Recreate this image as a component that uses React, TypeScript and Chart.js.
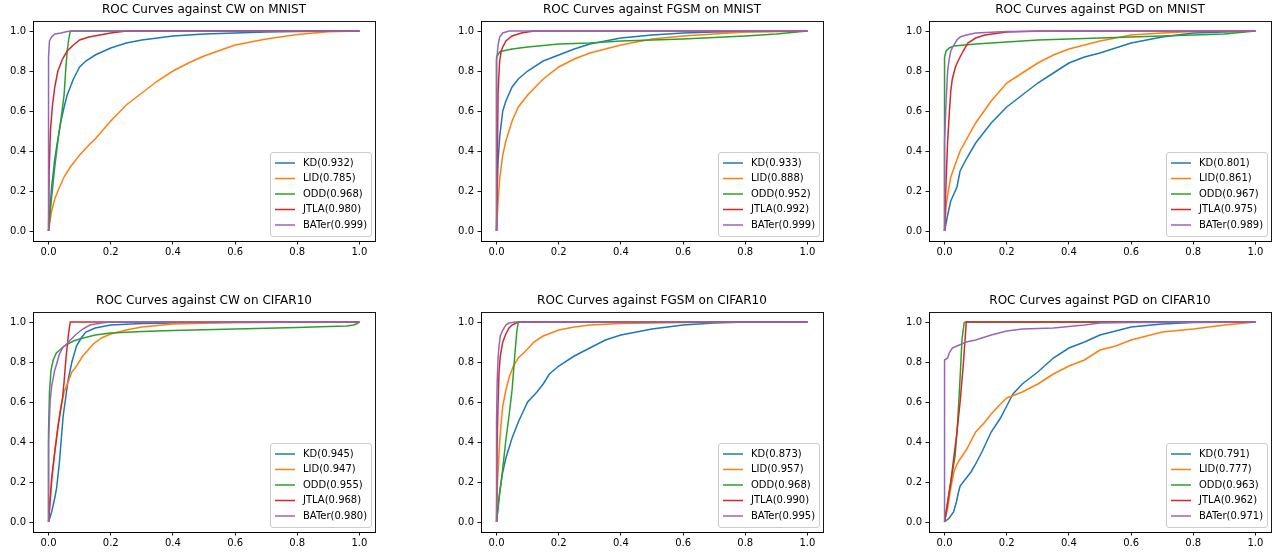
import React, { useEffect, useRef } from "react";
import { Chart, registerables } from "chart.js";

Chart.register(...registerables);

// ---------- labels / styling data ----------
const METHODS = ["KD", "LID", "ODD", "JTLA", "BATer"];
const COLORS = ["#1f77b4", "#ff7f0e", "#2ca02c", "#d62728", "#9467bd"];
const ATTACKS = ["CW", "FGSM", "PGD"];
const DATASETS = ["MNIST", "CIFAR10"];
const AXIS_TICKS = [0, 0.2, 0.4, 0.6, 0.8, 1.0];

// ---------- AUC values per panel (KD, LID, ODD, JTLA, BATer) ----------
const AUC_CW_MNIST = [0.932, 0.785, 0.968, 0.98, 0.999];
const AUC_FGSM_MNIST = [0.933, 0.888, 0.952, 0.992, 0.999];
const AUC_PGD_MNIST = [0.801, 0.861, 0.967, 0.975, 0.989];
const AUC_CW_CIFAR10 = [0.945, 0.947, 0.955, 0.968, 0.98];
const AUC_FGSM_CIFAR10 = [0.873, 0.957, 0.968, 0.99, 0.995];
const AUC_PGD_CIFAR10 = [0.791, 0.777, 0.963, 0.962, 0.971];

// ---------- ROC curves: [FPR, TPR] ----------
// CW on MNIST
const CW_MNIST_KD = [[0,0],[0.005,0.12],[0.01,0.22],[0.02,0.36],[0.03,0.46],[0.04,0.55],[0.05,0.62],[0.06,0.68],[0.07,0.72],[0.08,0.76],[0.1,0.82],[0.12,0.85],[0.15,0.88],[0.2,0.915],[0.25,0.94],[0.3,0.955],[0.4,0.975],[0.5,0.985],[0.6,0.99],[0.7,0.995],[0.8,0.998],[1,1]];
const CW_MNIST_LID = [[0,0],[0.005,0.05],[0.01,0.1],[0.02,0.16],[0.03,0.2],[0.05,0.27],[0.07,0.32],[0.1,0.38],[0.13,0.43],[0.15,0.46],[0.2,0.55],[0.25,0.63],[0.3,0.69],[0.35,0.75],[0.4,0.8],[0.45,0.84],[0.5,0.875],[0.6,0.93],[0.7,0.96],[0.8,0.983],[0.9,0.996],[1,1]];
const CW_MNIST_ODD = [[0,0],[0.01,0.17],[0.02,0.32],[0.03,0.45],[0.04,0.56],[0.05,0.68],[0.055,0.8],[0.06,0.9],[0.065,0.96],[0.07,1],[1,1]];
const CW_MNIST_JTLA = [[0,0],[0.002,0.3],[0.006,0.5],[0.012,0.62],[0.02,0.72],[0.03,0.8],[0.045,0.86],[0.06,0.9],[0.08,0.93],[0.1,0.955],[0.13,0.97],[0.2,0.99],[0.25,1],[1,1]];
const CW_MNIST_BATER = [[0,0],[0,0.87],[0.003,0.95],[0.01,0.97],[0.02,0.985],[0.04,0.99],[0.06,0.997],[0.08,1],[1,1]];

// FGSM on MNIST
const FGSM_MNIST_KD = [[0,0],[0.002,0.2],[0.005,0.35],[0.01,0.47],[0.02,0.6],[0.03,0.65],[0.05,0.72],[0.07,0.76],[0.1,0.8],[0.15,0.85],[0.2,0.88],[0.25,0.91],[0.3,0.935],[0.4,0.965],[0.5,0.98],[0.6,0.99],[0.7,0.995],[1,1]];
const FGSM_MNIST_LID = [[0,0],[0.005,0.15],[0.01,0.26],[0.02,0.38],[0.03,0.45],[0.05,0.55],[0.07,0.62],[0.1,0.68],[0.15,0.76],[0.2,0.82],[0.25,0.86],[0.3,0.89],[0.4,0.93],[0.5,0.96],[0.6,0.975],[0.7,0.985],[0.8,0.995],[1,1]];
const FGSM_MNIST_ODD = [[0,0],[0,0.87],[0.01,0.895],[0.02,0.9],[0.05,0.91],[0.1,0.92],[0.2,0.935],[0.3,0.94],[0.4,0.95],[0.5,0.955],[0.6,0.96],[0.7,0.967],[0.8,0.975],[0.9,0.985],[1,1]];
const FGSM_MNIST_JTLA = [[0,0],[0.005,0.7],[0.01,0.85],[0.015,0.9],[0.02,0.92],[0.03,0.95],[0.05,0.975],[0.08,0.99],[0.12,1],[1,1]];
const FGSM_MNIST_BATER = [[0,0],[0,0.85],[0.005,0.93],[0.01,0.97],[0.02,0.99],[0.04,1],[1,1]];

// PGD on MNIST
const PGD_MNIST_KD = [[0,0],[0.01,0.08],[0.02,0.15],[0.04,0.22],[0.05,0.3],[0.07,0.36],[0.1,0.44],[0.15,0.54],[0.2,0.62],[0.25,0.68],[0.3,0.74],[0.35,0.79],[0.4,0.84],[0.45,0.87],[0.5,0.89],[0.6,0.94],[0.7,0.97],[0.8,0.99],[0.9,0.995],[1,1]];
const PGD_MNIST_LID = [[0,0],[0.005,0.12],[0.01,0.18],[0.02,0.27],[0.05,0.4],[0.1,0.54],[0.15,0.65],[0.2,0.74],[0.25,0.79],[0.3,0.84],[0.35,0.88],[0.4,0.91],[0.5,0.95],[0.6,0.98],[0.7,0.99],[0.8,0.997],[1,1]];
const PGD_MNIST_ODD = [[0,0],[0,0.87],[0.005,0.9],[0.015,0.915],[0.03,0.925],[0.1,0.935],[0.2,0.945],[0.3,0.955],[0.4,0.96],[0.5,0.965],[0.6,0.97],[0.7,0.975],[0.8,0.98],[0.9,0.985],[1,1]];
const PGD_MNIST_JTLA = [[0,0],[0.005,0.25],[0.01,0.45],[0.015,0.58],[0.02,0.7],[0.025,0.76],[0.035,0.82],[0.045,0.855],[0.06,0.9],[0.075,0.94],[0.1,0.965],[0.13,0.98],[0.2,0.995],[0.3,1],[1,1]];
const PGD_MNIST_BATER = [[0,0],[0,0.45],[0.005,0.65],[0.01,0.8],[0.015,0.86],[0.02,0.9],[0.03,0.93],[0.04,0.955],[0.05,0.97],[0.07,0.98],[0.1,0.99],[0.2,0.997],[0.5,1],[1,1]];

// CW on CIFAR10
const CW_CIFAR10_KD = [[0,0],[0.01,0.05],[0.02,0.12],[0.026,0.17],[0.035,0.3],[0.047,0.53],[0.055,0.62],[0.063,0.71],[0.075,0.8],[0.09,0.88],[0.105,0.92],[0.12,0.95],[0.15,0.97],[0.2,0.985],[0.3,0.993],[0.5,0.998],[1,1]];
const CW_CIFAR10_LID = [[0,0],[0.005,0.1],[0.01,0.2],[0.02,0.35],[0.03,0.48],[0.04,0.58],[0.05,0.65],[0.063,0.7],[0.075,0.75],[0.09,0.78],[0.11,0.83],[0.144,0.89],[0.17,0.92],[0.2,0.94],[0.25,0.96],[0.3,0.975],[0.4,0.99],[0.6,0.997],[1,1]];
const CW_CIFAR10_ODD = [[0,0],[0,0.45],[0.003,0.65],[0.008,0.76],[0.015,0.81],[0.025,0.845],[0.036,0.86],[0.05,0.88],[0.08,0.905],[0.1,0.915],[0.15,0.935],[0.2,0.945],[0.3,0.952],[0.4,0.957],[0.5,0.961],[0.6,0.965],[0.7,0.969],[0.8,0.973],[0.9,0.977],[0.96,0.98],[0.98,0.985],[0.99,0.99],[1,1]];
const CW_CIFAR10_JTLA = [[0,0],[0.01,0.22],[0.02,0.35],[0.03,0.47],[0.04,0.57],[0.045,0.62],[0.05,0.7],[0.055,0.8],[0.06,0.88],[0.065,0.95],[0.07,1],[1,1]];
const CW_CIFAR10_BATER = [[0,0],[0,0.4],[0.005,0.6],[0.01,0.68],[0.02,0.76],[0.026,0.79],[0.035,0.84],[0.045,0.87],[0.058,0.89],[0.07,0.91],[0.09,0.94],[0.11,0.965],[0.133,0.985],[0.17,0.995],[0.2,1],[1,1]];

// FGSM on CIFAR10
const FGSM_CIFAR10_KD = [[0,0],[0.005,0.08],[0.01,0.15],[0.02,0.25],[0.03,0.32],[0.05,0.42],[0.07,0.5],[0.085,0.55],[0.1,0.6],[0.13,0.65],[0.15,0.69],[0.17,0.74],[0.2,0.78],[0.25,0.83],[0.3,0.87],[0.35,0.91],[0.4,0.935],[0.45,0.95],[0.5,0.965],[0.6,0.985],[0.7,0.995],[0.8,1],[1,1]];
const FGSM_CIFAR10_LID = [[0,0],[0.003,0.2],[0.01,0.4],[0.015,0.5],[0.02,0.58],[0.03,0.66],[0.04,0.72],[0.054,0.78],[0.07,0.82],[0.097,0.86],[0.12,0.9],[0.15,0.93],[0.2,0.96],[0.25,0.975],[0.3,0.985],[0.4,0.993],[0.6,0.998],[1,1]];
const FGSM_CIFAR10_ODD = [[0,0],[0.01,0.14],[0.02,0.27],[0.03,0.41],[0.04,0.53],[0.05,0.66],[0.055,0.76],[0.06,0.86],[0.065,0.95],[0.07,1],[1,1]];
const FGSM_CIFAR10_JTLA = [[0,0],[0.002,0.4],[0.005,0.6],[0.008,0.75],[0.012,0.83],[0.02,0.9],[0.03,0.94],[0.04,0.97],[0.05,0.985],[0.07,1],[1,1]];
const FGSM_CIFAR10_BATER = [[0,0],[0,0.5],[0.002,0.7],[0.005,0.82],[0.008,0.88],[0.012,0.93],[0.02,0.96],[0.03,0.985],[0.04,0.995],[0.06,1],[1,1]];

// PGD on CIFAR10
const PGD_CIFAR10_KD = [[0,0],[0.015,0.02],[0.029,0.05],[0.038,0.1],[0.045,0.15],[0.05,0.18],[0.07,0.22],[0.085,0.25],[0.1,0.29],[0.12,0.35],[0.15,0.45],[0.18,0.52],[0.2,0.58],[0.22,0.64],[0.25,0.69],[0.3,0.75],[0.35,0.82],[0.4,0.87],[0.45,0.9],[0.5,0.935],[0.55,0.955],[0.6,0.975],[0.7,0.99],[0.8,0.997],[1,1]];
const PGD_CIFAR10_LID = [[0,0],[0.01,0.07],[0.02,0.17],[0.03,0.25],[0.04,0.29],[0.05,0.315],[0.07,0.36],[0.1,0.45],[0.13,0.5],[0.15,0.54],[0.18,0.59],[0.2,0.62],[0.25,0.65],[0.3,0.69],[0.35,0.74],[0.4,0.78],[0.45,0.81],[0.5,0.86],[0.55,0.88],[0.6,0.91],[0.65,0.93],[0.7,0.95],[0.8,0.965],[0.9,0.985],[1,1]];
const PGD_CIFAR10_ODD = [[0,0],[0.01,0.1],[0.02,0.2],[0.034,0.33],[0.04,0.45],[0.045,0.58],[0.05,0.72],[0.056,0.91],[0.063,0.995],[0.067,1],[1,1]];
const PGD_CIFAR10_JTLA = [[0,0],[0.02,0.2],[0.04,0.45],[0.05,0.6],[0.06,0.78],[0.07,1],[1,1]];
const PGD_CIFAR10_BATER = [[0,0],[0,0.81],[0.01,0.82],[0.015,0.845],[0.025,0.87],[0.04,0.88],[0.07,0.9],[0.1,0.91],[0.15,0.935],[0.2,0.955],[0.25,0.965],[0.35,0.97],[0.45,0.985],[0.5,0.995],[0.6,0.997],[0.8,0.999],[1,1]];

// ---------- panels built from the arrays ----------
const PANELS = [
  { attack: ATTACKS[0], dataset: DATASETS[0], auc: AUC_CW_MNIST, curves: [CW_MNIST_KD, CW_MNIST_LID, CW_MNIST_ODD, CW_MNIST_JTLA, CW_MNIST_BATER] },
  { attack: ATTACKS[1], dataset: DATASETS[0], auc: AUC_FGSM_MNIST, curves: [FGSM_MNIST_KD, FGSM_MNIST_LID, FGSM_MNIST_ODD, FGSM_MNIST_JTLA, FGSM_MNIST_BATER] },
  { attack: ATTACKS[2], dataset: DATASETS[0], auc: AUC_PGD_MNIST, curves: [PGD_MNIST_KD, PGD_MNIST_LID, PGD_MNIST_ODD, PGD_MNIST_JTLA, PGD_MNIST_BATER] },
  { attack: ATTACKS[0], dataset: DATASETS[1], auc: AUC_CW_CIFAR10, curves: [CW_CIFAR10_KD, CW_CIFAR10_LID, CW_CIFAR10_ODD, CW_CIFAR10_JTLA, CW_CIFAR10_BATER] },
  { attack: ATTACKS[1], dataset: DATASETS[1], auc: AUC_FGSM_CIFAR10, curves: [FGSM_CIFAR10_KD, FGSM_CIFAR10_LID, FGSM_CIFAR10_ODD, FGSM_CIFAR10_JTLA, FGSM_CIFAR10_BATER] },
  { attack: ATTACKS[2], dataset: DATASETS[1], auc: AUC_PGD_CIFAR10, curves: [PGD_CIFAR10_KD, PGD_CIFAR10_LID, PGD_CIFAR10_ODD, PGD_CIFAR10_JTLA, PGD_CIFAR10_BATER] },
];

// ---------- layout ----------
const FONT = "'DejaVu Sans', 'Liberation Sans', sans-serif";
const FRAME_LEFTS = [33, 481, 929];
const FRAME_TOPS = [21, 312];
const FRAME_W = 342;
const FRAME_H = 220;
const Y_AXIS_W = 40;
const X_AXIS_H = 25;
const TITLE_H = 21;
const PAD_RIGHT = 10;
const CANVAS_W = Y_AXIS_W + FRAME_W + PAD_RIGHT;
const CANVAS_H = TITLE_H + FRAME_H + X_AXIS_H;

const framePlugin = {
  id: "frame",
  afterDatasetsDraw(chart: any) {
    const { ctx, chartArea } = chart;
    ctx.save();
    ctx.strokeStyle = "#000";
    ctx.lineWidth = 0.9;
    ctx.strokeRect(
      Math.round(chartArea.left) + 0.5,
      Math.round(chartArea.top) + 0.5,
      Math.round(chartArea.right - chartArea.left),
      Math.round(chartArea.bottom - chartArea.top)
    );
    ctx.restore();
  },
};

const mplLegendPlugin = {
  id: "mplLegend",
  afterDraw(chart: any) {
    const { ctx, chartArea } = chart;
    const ds = chart.data.datasets;
    ctx.save();
    ctx.font = `10px ${FONT}`;
    let maxW = 0;
    ds.forEach((d: any) => {
      maxW = Math.max(maxW, ctx.measureText(d.label).width);
    });
    const pitch = 15.5;
    const w = Math.round(4 + 1 + 20 + 8 + maxW + 4);
    const h = 84;
    const right = Math.round(chartArea.right) - 4;
    const bottom = Math.round(chartArea.bottom) - 5;
    const left = right - w;
    const top = bottom - h;
    // box
    const r = 2.5;
    ctx.beginPath();
    ctx.moveTo(left + r + 0.5, top + 0.5);
    ctx.lineTo(right - r + 0.5, top + 0.5);
    ctx.arcTo(right + 0.5, top + 0.5, right + 0.5, top + r + 0.5, r);
    ctx.lineTo(right + 0.5, bottom - r + 0.5);
    ctx.arcTo(right + 0.5, bottom + 0.5, right - r + 0.5, bottom + 0.5, r);
    ctx.lineTo(left + r + 0.5, bottom + 0.5);
    ctx.arcTo(left + 0.5, bottom + 0.5, left + 0.5, bottom - r + 0.5, r);
    ctx.lineTo(left + 0.5, top + r + 0.5);
    ctx.arcTo(left + 0.5, top + 0.5, left + r + 0.5, top + 0.5, r);
    ctx.closePath();
    ctx.fillStyle = "rgba(255,255,255,0.8)";
    ctx.fill();
    ctx.strokeStyle = "#cccccc";
    ctx.lineWidth = 1;
    ctx.stroke();
    // entries
    const firstY = top + (h - pitch * (ds.length - 1)) / 2;
    ds.forEach((d: any, i: number) => {
      const y = firstY + i * pitch;
      ctx.strokeStyle = d.borderColor;
      ctx.lineWidth = 1.5;
      ctx.beginPath();
      ctx.moveTo(left + 5, y);
      ctx.lineTo(left + 25, y);
      ctx.stroke();
      ctx.fillStyle = "#000";
      ctx.textBaseline = "middle";
      ctx.textAlign = "left";
      ctx.fillText(d.label, left + 33, y);
    });
    ctx.restore();
  },
};

function axisCommon(isX: boolean) {
  return {
    type: "linear" as const,
    min: -0.05,
    max: 1.05,
    afterBuildTicks: (s: any) => {
      s.ticks = AXIS_TICKS.map((v) => ({ value: v }));
    },
    afterFit: (s: any) => {
      if (isX) s.height = X_AXIS_H;
      else s.width = Y_AXIS_W;
    },
    ticks: {
      font: { family: FONT, size: 10 },
      color: "#000",
      padding: isX ? 1.5 : 3.5,
      maxRotation: 0,
      autoSkip: false,
      callback: (v: any) => Number(v).toFixed(1),
    },
    grid: {
      drawOnChartArea: false,
      drawTicks: true,
      tickLength: 3.5,
      tickColor: "#000",
      tickWidth: 0.9,
    },
    border: { display: true, color: "#000", width: 0.9 },
  };
}

function Panel({ panel, left, top }: { panel: any; left: number; top: number }) {
  const ref = useRef<HTMLCanvasElement | null>(null);
  useEffect(() => {
    if (!ref.current) return;
    const datasets = panel.curves.map((curve: number[][], i: number) => ({
      label: `${METHODS[i]}(${panel.auc[i].toFixed(3)})`,
      data: curve.map((p) => ({ x: p[0], y: p[1] })),
      borderColor: COLORS[i],
      backgroundColor: COLORS[i],
      borderWidth: 1.5,
      pointRadius: 0,
      tension: 0,
      fill: false,
      order: METHODS.length - i,
    }));
    const chart = new Chart(ref.current, {
      type: "line",
      data: { datasets },
      options: {
        animation: false,
        responsive: false,
        devicePixelRatio: 1,
        parsing: false,
        layout: { padding: { left: 0, right: PAD_RIGHT, top: 0, bottom: 0 } },
        plugins: {
          legend: { display: false },
          tooltip: { enabled: false },
          title: {
            display: true,
            fullSize: false,
            text: `ROC Curves against ${panel.attack} on ${panel.dataset}`,
            color: "#000",
            font: { family: FONT, size: 12, weight: "normal", lineHeight: 1.2 },
            padding: { top: 3, bottom: 3.6 },
          },
        },
        scales: {
          x: axisCommon(true),
          y: axisCommon(false),
        },
      } as any,
      plugins: [framePlugin, mplLegendPlugin],
    });
    return () => chart.destroy();
  }, [panel]);
  return (
    <div style={{ position: "absolute", left, top, width: CANVAS_W, height: CANVAS_H }}>
      <canvas ref={ref} width={CANVAS_W} height={CANVAS_H} style={{ width: CANVAS_W, height: CANVAS_H, display: "block" }} />
    </div>
  );
}

export default function App() {
  return (
    <div style={{ position: "absolute", left: 0, top: 0, width: 1273, height: 554, background: "#fff", overflow: "hidden" }}>
      {PANELS.map((p, i) => {
        const col = i % 3;
        const row = Math.floor(i / 3);
        return (
          <Panel
            key={i}
            panel={p}
            left={FRAME_LEFTS[col] - Y_AXIS_W}
            top={FRAME_TOPS[row] - TITLE_H}
          />
        );
      })}
    </div>
  );
}
